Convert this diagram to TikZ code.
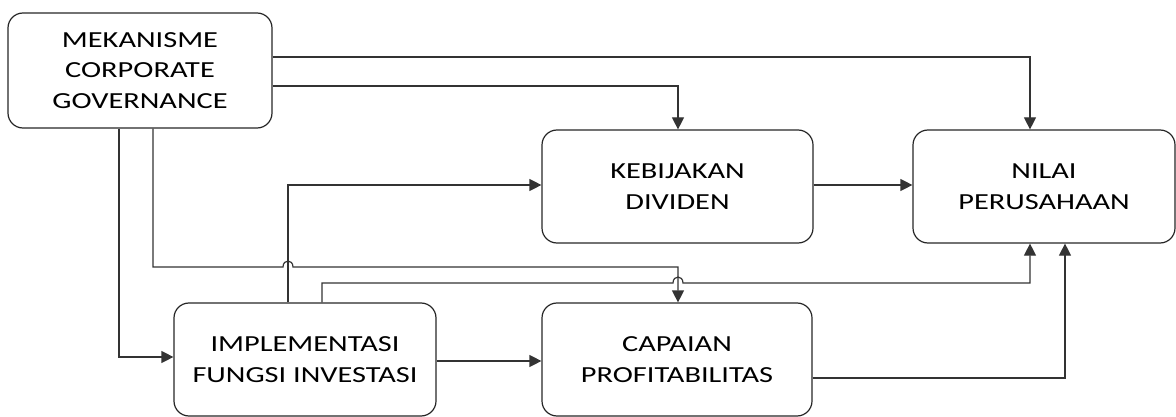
\documentclass[tikz,border=0pt]{standalone}
\usepackage{fontspec}
\setmainfont{Carlito}[FakeStretch=1.32]
\usetikzlibrary{arrows.meta}
\begin{document}
\begin{tikzpicture}[x=1pt,y=-1pt,
  box/.style={draw=black!85,line width=1.2pt,rounded corners=15pt,align=center,
    inner sep=0pt,font=\fontsize{23}{30.5}\selectfont,text=black},
  conn/.style={line width=1.2pt,draw=black!80,-{Triangle[length=12pt,width=12pt]}}]
\useasboundingbox (0,0) rectangle (1176,417);
\node[box,minimum width=264pt,minimum height=115pt] (mek) at (140,70.5) {MEKANISME\\CORPORATE\\GOVERNANCE};
\node[box,minimum width=271pt,minimum height=113pt] (keb) at (677.5,186.5) {KEBIJAKAN\\DIVIDEN};
\node[box,minimum width=262pt,minimum height=113pt] (nil) at (1044,186.5) {NILAI\\PERUSAHAAN};
\node[box,minimum width=262pt,minimum height=113pt] (imp) at (305,359.5) {IMPLEMENTASI\\FUNGSI INVESTASI};
\node[box,minimum width=270pt,minimum height=113pt] (cap) at (677,359.5) {CAPAIAN\\PROFITABILITAS};
% Mekanisme -> Nilai
\draw[conn] (mek.east |- 0,57) -| (nil.north -| 1030,0);
% Mekanisme -> Kebijakan
\draw[conn] (mek.east |- 0,86) -| (keb.north -| 678,0);
% Mekanisme -> Implementasi
\draw[conn] (mek.south -| 119,0) |- (imp.west |- 0,357);
% Mekanisme -> Capaian (with hop)
\draw[conn] (mek.south -| 153,0) -- (153,267) -- (283,267)
  .. controls (283,259) and (293,259) .. (293,267) -- (678,267) -- (cap.north -| 678,0);
% Implementasi -> Kebijakan
\draw[conn] (imp.north -| 288,0) |- (keb.west |- 0,185);
% Implementasi -> Nilai (with hop)
\draw[conn] (imp.north -| 322,0) -- (322,283) -- (673,283)
  .. controls (673,275) and (683,275) .. (683,283) -- (1030,283) -- (nil.south -| 1030,0);
% Implementasi -> Capaian
\draw[conn] (imp.east |- 0,361) -- (cap.west |- 0,361);
% Capaian -> Nilai
\draw[conn] (cap.east |- 0,378) -| (nil.south -| 1065,0);
% Kebijakan -> Nilai
\draw[conn] (keb.east |- 0,185) -- (nil.west |- 0,185);
\end{tikzpicture}
\end{document}
